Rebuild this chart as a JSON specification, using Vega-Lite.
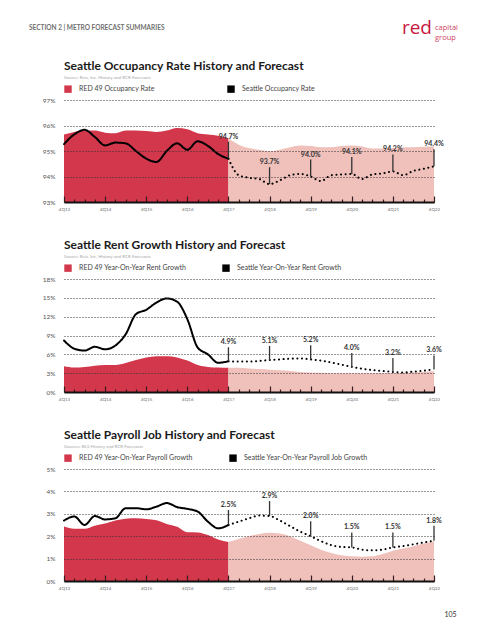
{
  "$schema": "https://vega.github.io/schema/vega-lite/v6.json",
  "padding": {"left": 29, "top": 19, "right": 5, "bottom": 5},
  "config": {
    "view": {"stroke": null},
    "font": "Lato",
    "title": {"font": "Lato", "subtitleFont": "Lato"}
  },
  "datasets": {
    "occ": [
      {"t":0,"period":"h","red":0.9565,"seattle":0.9527},
      {"t":1,"period":"h","red":0.9575,"seattle":0.9565},
      {"t":2,"period":"h","red":0.9580,"seattle":0.9583},
      {"t":3,"period":"h","red":0.9580,"seattle":0.9555},
      {"t":4,"period":"h","red":0.9572,"seattle":0.9522},
      {"t":5,"period":"h","red":0.9570,"seattle":0.9533},
      {"t":6,"period":"h","red":0.9580,"seattle":0.9530},
      {"t":7,"period":"h","red":0.9580,"seattle":0.9500},
      {"t":8,"period":"h","red":0.9578,"seattle":0.9470},
      {"t":9,"period":"h","red":0.9575,"seattle":0.9457},
      {"t":10,"period":"h","red":0.9580,"seattle":0.9500},
      {"t":11,"period":"h","red":0.9590,"seattle":0.9530},
      {"t":12,"period":"h","red":0.9585,"seattle":0.9505},
      {"t":13,"period":"h","red":0.9570,"seattle":0.9538},
      {"t":14,"period":"h","red":0.9565,"seattle":0.9520},
      {"t":15,"period":"h","red":0.9560,"seattle":0.9488},
      {"t":16,"period":"h","red":0.9550,"seattle":0.9470},
      {"t":16,"period":"f","red":0.9550,"seattle":0.9470},
      {"t":17,"period":"f","red":0.9525,"seattle":0.9405},
      {"t":18,"period":"f","red":0.9512,"seattle":0.9395},
      {"t":19,"period":"f","red":0.9505,"seattle":0.9390},
      {"t":20,"period":"f","red":0.9500,"seattle":0.9370},
      {"t":21,"period":"f","red":0.9505,"seattle":0.9385},
      {"t":22,"period":"f","red":0.9515,"seattle":0.9405},
      {"t":23,"period":"f","red":0.9522,"seattle":0.9410},
      {"t":24,"period":"f","red":0.9520,"seattle":0.9400},
      {"t":25,"period":"f","red":0.9515,"seattle":0.9382},
      {"t":26,"period":"f","red":0.9515,"seattle":0.9405},
      {"t":27,"period":"f","red":0.9520,"seattle":0.9408},
      {"t":28,"period":"f","red":0.9522,"seattle":0.9410},
      {"t":29,"period":"f","red":0.9518,"seattle":0.9390},
      {"t":30,"period":"f","red":0.9510,"seattle":0.9408},
      {"t":31,"period":"f","red":0.9510,"seattle":0.9412},
      {"t":32,"period":"f","red":0.9512,"seattle":0.9420},
      {"t":33,"period":"f","red":0.9515,"seattle":0.9405},
      {"t":34,"period":"f","red":0.9515,"seattle":0.9422},
      {"t":35,"period":"f","red":0.9517,"seattle":0.9430},
      {"t":36,"period":"f","red":0.9518,"seattle":0.9440}
    ],
    "rent": [
      {"t":0,"period":"h","red":0.041,"seattle":0.082},
      {"t":1,"period":"h","red":0.039,"seattle":0.069},
      {"t":2,"period":"h","red":0.040,"seattle":0.066},
      {"t":3,"period":"h","red":0.042,"seattle":0.072},
      {"t":4,"period":"h","red":0.043,"seattle":0.068},
      {"t":5,"period":"h","red":0.043,"seattle":0.074},
      {"t":6,"period":"h","red":0.046,"seattle":0.092},
      {"t":7,"period":"h","red":0.051,"seattle":0.124},
      {"t":8,"period":"h","red":0.055,"seattle":0.131},
      {"t":9,"period":"h","red":0.057,"seattle":0.1425},
      {"t":10,"period":"h","red":0.057,"seattle":0.149},
      {"t":11,"period":"h","red":0.055,"seattle":0.144},
      {"t":12,"period":"h","red":0.050,"seattle":0.116},
      {"t":13,"period":"h","red":0.043,"seattle":0.071},
      {"t":14,"period":"h","red":0.040,"seattle":0.060},
      {"t":15,"period":"h","red":0.039,"seattle":0.0465},
      {"t":16,"period":"h","red":0.0385,"seattle":0.049},
      {"t":16,"period":"f","red":0.0385,"seattle":0.049},
      {"t":17,"period":"f","red":0.0385,"seattle":0.0485},
      {"t":18,"period":"f","red":0.0375,"seattle":0.0485},
      {"t":19,"period":"f","red":0.0365,"seattle":0.0495},
      {"t":20,"period":"f","red":0.0355,"seattle":0.051},
      {"t":21,"period":"f","red":0.0345,"seattle":0.052},
      {"t":22,"period":"f","red":0.0335,"seattle":0.053},
      {"t":23,"period":"f","red":0.032,"seattle":0.0535},
      {"t":24,"period":"f","red":0.031,"seattle":0.052},
      {"t":25,"period":"f","red":0.0305,"seattle":0.050},
      {"t":26,"period":"f","red":0.030,"seattle":0.047},
      {"t":27,"period":"f","red":0.030,"seattle":0.0435},
      {"t":28,"period":"f","red":0.030,"seattle":0.040},
      {"t":29,"period":"f","red":0.030,"seattle":0.037},
      {"t":30,"period":"f","red":0.030,"seattle":0.035},
      {"t":31,"period":"f","red":0.030,"seattle":0.0335},
      {"t":32,"period":"f","red":0.030,"seattle":0.032},
      {"t":33,"period":"f","red":0.0305,"seattle":0.031},
      {"t":34,"period":"f","red":0.031,"seattle":0.0325},
      {"t":35,"period":"f","red":0.032,"seattle":0.034},
      {"t":36,"period":"f","red":0.033,"seattle":0.036}
    ],
    "jobs": [
      {"t":0,"period":"h","red":0.0243,"seattle":0.0270},
      {"t":1,"period":"h","red":0.0233,"seattle":0.0288},
      {"t":2,"period":"h","red":0.0233,"seattle":0.0250},
      {"t":3,"period":"h","red":0.0247,"seattle":0.0290},
      {"t":4,"period":"h","red":0.0257,"seattle":0.0275},
      {"t":5,"period":"h","red":0.0270,"seattle":0.0280},
      {"t":6,"period":"h","red":0.0278,"seattle":0.0325},
      {"t":7,"period":"h","red":0.0280,"seattle":0.0325},
      {"t":8,"period":"h","red":0.0277,"seattle":0.0320},
      {"t":9,"period":"h","red":0.0271,"seattle":0.0332},
      {"t":10,"period":"h","red":0.0255,"seattle":0.0348},
      {"t":11,"period":"h","red":0.0242,"seattle":0.0330},
      {"t":12,"period":"h","red":0.0218,"seattle":0.0322},
      {"t":13,"period":"h","red":0.0217,"seattle":0.0310},
      {"t":14,"period":"h","red":0.0205,"seattle":0.0265},
      {"t":15,"period":"h","red":0.0185,"seattle":0.0235},
      {"t":16,"period":"h","red":0.0174,"seattle":0.0250},
      {"t":16,"period":"f","red":0.0174,"seattle":0.0250},
      {"t":17,"period":"f","red":0.0188,"seattle":0.0265},
      {"t":18,"period":"f","red":0.0200,"seattle":0.0280},
      {"t":19,"period":"f","red":0.0210,"seattle":0.0292},
      {"t":20,"period":"f","red":0.0215,"seattle":0.0290},
      {"t":21,"period":"f","red":0.0212,"seattle":0.0270},
      {"t":22,"period":"f","red":0.0200,"seattle":0.0245},
      {"t":23,"period":"f","red":0.0180,"seattle":0.0220},
      {"t":24,"period":"f","red":0.0160,"seattle":0.0200},
      {"t":25,"period":"f","red":0.0140,"seattle":0.0178},
      {"t":26,"period":"f","red":0.0125,"seattle":0.0160},
      {"t":27,"period":"f","red":0.0115,"seattle":0.0152},
      {"t":28,"period":"f","red":0.0110,"seattle":0.0150},
      {"t":29,"period":"f","red":0.0108,"seattle":0.0140},
      {"t":30,"period":"f","red":0.0110,"seattle":0.0137},
      {"t":31,"period":"f","red":0.0120,"seattle":0.0140},
      {"t":32,"period":"f","red":0.0135,"seattle":0.0150},
      {"t":33,"period":"f","red":0.0145,"seattle":0.0156},
      {"t":34,"period":"f","red":0.0155,"seattle":0.0164},
      {"t":35,"period":"f","red":0.0167,"seattle":0.0172},
      {"t":36,"period":"f","red":0.0178,"seattle":0.0180}
    ]
  },
  "bounds": "flush",
  "spacing": 46,
  "vconcat": [
    {
      "bounds": "flush",
      "spacing": 0,
      "hconcat": [
        {
          "width": 330, "height": 0,
          "data": {"values": []},
          "mark": "point",
          "title": {"text": "SECTION 2 | METRO FORECAST SUMMARIES", "anchor": "start", "frame": "group", "dx": -35, "offset": 18, "baseline": "alphabetic", "fontSize": 6.5, "fontWeight": "bold", "color": "#707070"}
        },
        {
          "width": 38, "height": 0,
          "data": {"values": []},
          "mark": "point",
          "title": {"text": "red", "anchor": "end", "frame": "group", "offset": 1, "baseline": "alphabetic", "font": "Open Sans", "fontSize": 19, "fontWeight": "normal", "color": "#c8173f"}
        },
        {
          "width": 30, "height": 0,
          "data": {"values": []},
          "mark": "point",
          "title": {"text": ["capital", "group"], "anchor": "start", "frame": "group", "dx": 3, "offset": 7, "baseline": "alphabetic", "lineHeight": 9.5, "font": "Open Sans", "fontSize": 7.5, "fontWeight": "normal", "color": "#d04462"}
        }
      ]
    },
    {
      "bounds": "flush",
      "spacing": 77,
      "resolve": {"scale": {"color": "independent", "strokeDash": "independent"}, "legend": {"color": "independent"}},
      "vconcat": [
        {
          "width": 370, "height": 102,
          "title": {"text": "Seattle Occupancy Rate History and Forecast", "subtitle": "Source: Reis, Inc. History and RCR Forecasts", "anchor": "start", "frame": "group", "fontSize": 12, "fontWeight": "bold", "color": "#1a1a1a", "subtitleFontSize": 4.5, "subtitleColor": "#a8a8a8", "subtitlePadding": 2, "offset": 5},
          "data": {"name": "occ"},
          "encoding": {
            "x": {"field": "t", "type": "quantitative", "scale": {"domain": [0, 36], "nice": false, "zero": false},
              "axis": {"values": [0,1,2,3,4,5,6,7,8,9,10,11,12,13,14,15,16,17,18,19,20,21,22,23,24,25,26,27,28,29,30,31,32,33,34,35,36], "tickCount": 40,
                "labelExpr": "datum.value % 4 === 0 ? '4Q' + (13 + datum.value / 4) : ''",
                "labelFontSize": 4.5, "labelColor": "#707070", "labelPadding": 10, "labelFlush": false, "labelAngle": 0, "labelOverlap": false,
                "tickSize": {"condition": {"test": "datum.value % 4 === 0", "value": -6}, "value": -3},
                "tickColor": "#3a1c20", "tickWidth": 1.2, "domainColor": "#111111", "domainWidth": 2, "grid": false, "title": null, "zindex": 2}}
          },
          "layer": [
            {
              "mark": {"type": "area", "interpolate": "monotone"},
              "encoding": {
                "y": {"field": "red", "type": "quantitative", "stack": null,
                  "scale": {"domain": [0.93, 0.97], "nice": false, "zero": false},
                  "axis": {"values": [0.93, 0.94, 0.95, 0.96, 0.97], "tickCount": 10, "format": ".0%", "labelOverlap": false, "grid": true, "gridDash": [1, 2], "gridColor": "#333333", "gridWidth": 1, "domain": false, "ticks": false, "labelFontSize": 6.5, "labelColor": "#555555", "labelPadding": 9, "title": null, "zindex": 1}},
                "color": {"field": "period", "type": "nominal",
                  "scale": {"domain": ["h", "s", "f"], "range": ["#d2374b", "#000000", "#f0c0bb"]},
                  "legend": {"orient": "top", "direction": "horizontal", "title": null, "values": ["h", "s"],
                    "labelExpr": "datum.value === 'h' ? 'RED 49 Occupancy Rate' : 'Seattle Occupancy Rate'",
                    "symbolType": "square", "symbolSize": 55, "symbolStrokeWidth": 0, "labelFontSize": 7, "labelColor": "#444444",
                    "labelOffset": 7, "columnPadding": 72, "offset": 7, "padding": 0}}
              }
            },
            {
              "mark": {"type": "line", "interpolate": "monotone", "strokeWidth": 2, "strokeCap": "round"},
              "encoding": {
                "y": {"field": "seattle", "type": "quantitative"},
                "color": {"datum": "s", "type": "nominal"},
                "strokeDash": {"field": "period", "type": "nominal", "scale": {"domain": ["h", "f"], "range": [[1, 0], [0.1, 4.5]]}, "legend": null}
              }
            },
            {
              "transform": [{"filter": "datum.period === 'f' && datum.t % 4 === 0"}],
              "mark": {"type": "rule", "color": "#333333", "strokeWidth": 1.3, "y2Offset": -17},
              "encoding": {"y": {"field": "seattle", "type": "quantitative"}, "y2": {"field": "seattle"}}
            },
            {
              "transform": [{"filter": "datum.period === 'f' && datum.t % 4 === 0"}],
              "mark": {"type": "text", "baseline": "bottom", "dy": -19, "fontSize": 7, "fontWeight": "bold", "color": "#333333"},
              "encoding": {"y": {"field": "seattle", "type": "quantitative"}, "text": {"field": "seattle", "type": "quantitative", "format": ".1%"}}
            }
          ]
        },
        {
          "width": 370, "height": 113,
          "title": {"text": "Seattle Rent Growth History and Forecast", "subtitle": "Source: Reis, Inc. History and RCR Forecasts", "anchor": "start", "frame": "group", "fontSize": 12, "fontWeight": "bold", "color": "#1a1a1a", "subtitleFontSize": 4.5, "subtitleColor": "#a8a8a8", "subtitlePadding": 2, "offset": 5},
          "data": {"name": "rent"},
          "encoding": {
            "x": {"field": "t", "type": "quantitative", "scale": {"domain": [0, 36], "nice": false, "zero": false},
              "axis": {"values": [0,1,2,3,4,5,6,7,8,9,10,11,12,13,14,15,16,17,18,19,20,21,22,23,24,25,26,27,28,29,30,31,32,33,34,35,36], "tickCount": 40,
                "labelExpr": "datum.value % 4 === 0 ? '4Q' + (13 + datum.value / 4) : ''",
                "labelFontSize": 4.5, "labelColor": "#707070", "labelPadding": 10, "labelFlush": false, "labelAngle": 0, "labelOverlap": false,
                "tickSize": {"condition": {"test": "datum.value % 4 === 0", "value": -6}, "value": -3},
                "tickColor": "#3a1c20", "tickWidth": 1.2, "domainColor": "#111111", "domainWidth": 2, "grid": false, "title": null, "zindex": 2}}
          },
          "layer": [
            {
              "mark": {"type": "area", "interpolate": "monotone"},
              "encoding": {
                "y": {"field": "red", "type": "quantitative", "stack": null,
                  "scale": {"domain": [0, 0.18], "nice": false, "zero": false},
                  "axis": {"values": [0, 0.03, 0.06, 0.09, 0.12, 0.15, 0.18], "tickCount": 10, "format": ".0%", "labelOverlap": false, "grid": true, "gridDash": [1, 2], "gridColor": "#333333", "gridWidth": 1, "domain": false, "ticks": false, "labelFontSize": 6.5, "labelColor": "#555555", "labelPadding": 9, "title": null, "zindex": 1}},
                "color": {"field": "period", "type": "nominal",
                  "scale": {"domain": ["h", "s", "f"], "range": ["#d2374b", "#000000", "#f0c0bb"]},
                  "legend": {"orient": "top", "direction": "horizontal", "title": null, "values": ["h", "s"],
                    "labelExpr": "datum.value === 'h' ? 'RED 49 Year-On-Year Rent Growth' : 'Seattle Year-On-Year Rent Growth'",
                    "symbolType": "square", "symbolSize": 55, "symbolStrokeWidth": 0, "labelFontSize": 7, "labelColor": "#444444",
                    "labelOffset": 7, "columnPadding": 35, "offset": 7, "padding": 0}}
              }
            },
            {
              "mark": {"type": "line", "interpolate": "monotone", "strokeWidth": 2, "strokeCap": "round"},
              "encoding": {
                "y": {"field": "seattle", "type": "quantitative"},
                "color": {"datum": "s", "type": "nominal"},
                "strokeDash": {"field": "period", "type": "nominal", "scale": {"domain": ["h", "f"], "range": [[1, 0], [0.1, 4.5]]}, "legend": null}
              }
            },
            {
              "transform": [{"filter": "datum.period === 'f' && datum.t % 4 === 0"}],
              "mark": {"type": "rule", "color": "#333333", "strokeWidth": 1.3, "y2Offset": -14},
              "encoding": {"y": {"field": "seattle", "type": "quantitative"}, "y2": {"field": "seattle"}}
            },
            {
              "transform": [{"filter": "datum.period === 'f' && datum.t % 4 === 0"}],
              "mark": {"type": "text", "baseline": "bottom", "dy": -16, "fontSize": 7, "fontWeight": "bold", "color": "#333333"},
              "encoding": {"y": {"field": "seattle", "type": "quantitative"}, "text": {"field": "seattle", "type": "quantitative", "format": ".1%"}}
            }
          ]
        },
        {
          "width": 370, "height": 112,
          "title": {"text": "Seattle Payroll Job History and Forecast", "subtitle": "Sources: BLS History and RCR Forecasts", "anchor": "start", "frame": "group", "fontSize": 12, "fontWeight": "bold", "color": "#1a1a1a", "subtitleFontSize": 4.5, "subtitleColor": "#a8a8a8", "subtitlePadding": 2, "offset": 5},
          "data": {"name": "jobs"},
          "encoding": {
            "x": {"field": "t", "type": "quantitative", "scale": {"domain": [0, 36], "nice": false, "zero": false},
              "axis": {"values": [0,1,2,3,4,5,6,7,8,9,10,11,12,13,14,15,16,17,18,19,20,21,22,23,24,25,26,27,28,29,30,31,32,33,34,35,36], "tickCount": 40,
                "labelExpr": "datum.value % 4 === 0 ? '4Q' + (13 + datum.value / 4) : ''",
                "labelFontSize": 4.5, "labelColor": "#707070", "labelPadding": 10, "labelFlush": false, "labelAngle": 0, "labelOverlap": false,
                "tickSize": {"condition": {"test": "datum.value % 4 === 0", "value": -6}, "value": -3},
                "tickColor": "#3a1c20", "tickWidth": 1.2, "domainColor": "#111111", "domainWidth": 2, "grid": false,
                "title": "105", "titleX": 386, "titleY": 33, "titleAlign": "center", "titleBaseline": "middle", "titleFontSize": 7, "titleFontWeight": "normal", "titleColor": "#333333", "zindex": 2}}
          },
          "layer": [
            {
              "mark": {"type": "area", "interpolate": "monotone"},
              "encoding": {
                "y": {"field": "red", "type": "quantitative", "stack": null,
                  "scale": {"domain": [0, 0.05], "nice": false, "zero": false},
                  "axis": {"values": [0, 0.01, 0.02, 0.03, 0.04, 0.05], "tickCount": 10, "format": ".0%", "labelOverlap": false, "grid": true, "gridDash": [1, 2], "gridColor": "#333333", "gridWidth": 1, "domain": false, "ticks": false, "labelFontSize": 6.5, "labelColor": "#555555", "labelPadding": 9, "title": null, "zindex": 1}},
                "color": {"field": "period", "type": "nominal",
                  "scale": {"domain": ["h", "s", "f"], "range": ["#d2374b", "#000000", "#f0c0bb"]},
                  "legend": {"orient": "top", "direction": "horizontal", "title": null, "values": ["h", "s"],
                    "labelExpr": "datum.value === 'h' ? 'RED 49 Year-On-Year Payroll Growth' : 'Seattle Year-On-Year Payroll Job Growth'",
                    "symbolType": "square", "symbolSize": 55, "symbolStrokeWidth": 0, "labelFontSize": 7, "labelColor": "#444444",
                    "labelOffset": 7, "columnPadding": 36, "offset": 7, "padding": 0}}
              }
            },
            {
              "mark": {"type": "line", "interpolate": "monotone", "strokeWidth": 2, "strokeCap": "round"},
              "encoding": {
                "y": {"field": "seattle", "type": "quantitative"},
                "color": {"datum": "s", "type": "nominal"},
                "strokeDash": {"field": "period", "type": "nominal", "scale": {"domain": ["h", "f"], "range": [[1, 0], [0.1, 4.5]]}, "legend": null}
              }
            },
            {
              "transform": [{"filter": "datum.period === 'f' && datum.t % 4 === 0"}],
              "mark": {"type": "rule", "color": "#333333", "strokeWidth": 1.3, "y2Offset": -15},
              "encoding": {"y": {"field": "seattle", "type": "quantitative"}, "y2": {"field": "seattle"}}
            },
            {
              "transform": [{"filter": "datum.period === 'f' && datum.t % 4 === 0"}],
              "mark": {"type": "text", "baseline": "bottom", "dy": -17, "fontSize": 7, "fontWeight": "bold", "color": "#333333"},
              "encoding": {"y": {"field": "seattle", "type": "quantitative"}, "text": {"field": "seattle", "type": "quantitative", "format": ".1%"}}
            }
          ]
        }
      ]
    }
  ]
}
